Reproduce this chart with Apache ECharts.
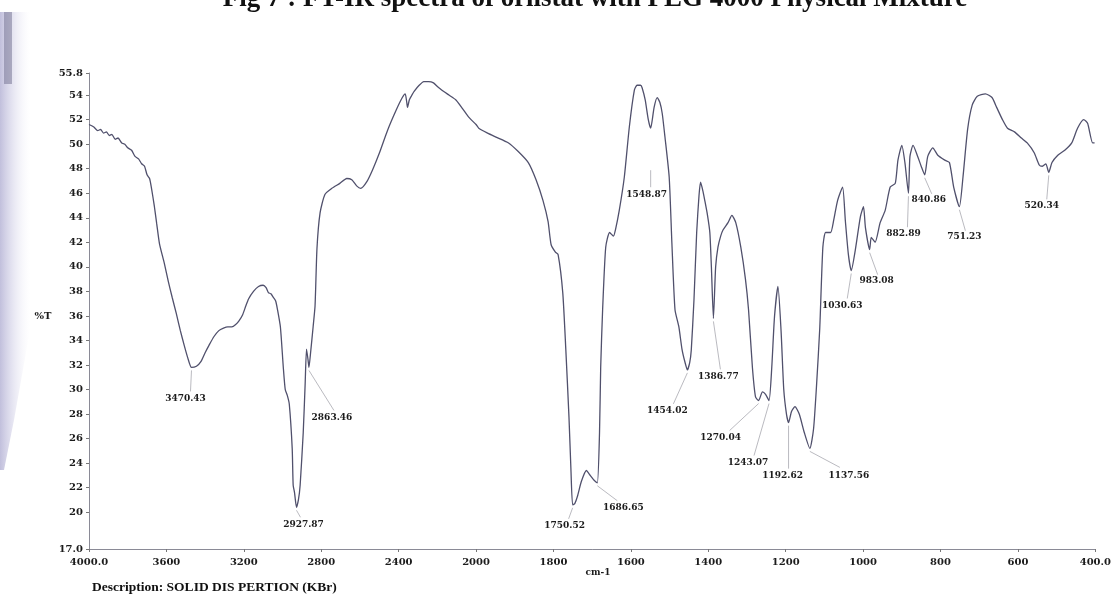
<!DOCTYPE html>
<html>
<head>
<meta charset="utf-8">
<title>FT-IR spectrum – orlistat with PEG 4000 physical mixture</title>
<script src="https://cdn.jsdelivr.net/npm/echarts@6/dist/echarts.min.js"></script>
<style>
  html, body { margin: 0; padding: 0; background: #ffffff; }
  #chart { width: 1114px; height: 599px; }
</style>
</head>
<body>
<div id="chart"></div>
<script>
// Spectrum: wavenumber (cm-1) and transmittance (%T)
const wavenumber = [
  4000, 3975, 3955, 3940, 3925, 3910, 3895, 3882, 3865, 3850,
  3831, 3815, 3800, 3780, 3762, 3744, 3728, 3713, 3700, 3687,
  3677, 3662, 3650, 3636, 3611, 3590, 3570, 3549, 3528, 3508,
  3490, 3470.43, 3445, 3421, 3400, 3380, 3355, 3329, 3305, 3283,
  3262, 3242, 3225, 3206, 3190, 3175, 3150, 3124, 3100, 3085,
  3073, 3060, 3047, 3035, 3027, 3011, 2996, 2986, 2975, 2965,
  2950, 2945, 2938, 2927.87, 2918, 2909, 2893, 2883, 2876, 2868,
  2863.46, 2855, 2842, 2832, 2822, 2806, 2781, 2745, 2704, 2668,
  2642, 2617, 2596, 2566, 2535, 2499, 2458, 2412, 2381, 2366,
  2358, 2354, 2345, 2335, 2320, 2294, 2270, 2245, 2220, 2200,
  2176, 2140, 2104, 2070, 2038, 2000, 1993, 1970, 1950, 1916,
  1891, 1865, 1845, 1827, 1814, 1806, 1795, 1788, 1776, 1768,
  1760, 1755, 1750.52, 1745, 1738, 1728, 1715, 1705, 1695, 1686.65,
  1681, 1678, 1673, 1665, 1655, 1645, 1640, 1630, 1617, 1604,
  1591, 1584, 1575, 1571, 1563, 1555, 1548.87, 1540, 1532, 1525,
  1519, 1512, 1501, 1494, 1486, 1476, 1468, 1460, 1454.02, 1448,
  1444, 1437, 1430, 1424, 1420, 1414, 1409, 1402, 1396, 1392,
  1386.77, 1381, 1375, 1368, 1362, 1349, 1339, 1329, 1316, 1304,
  1296, 1286, 1278, 1270.04, 1260, 1252, 1243.07, 1236, 1229, 1220,
  1212, 1205, 1198, 1192.62, 1185, 1176, 1165, 1152, 1137.56, 1128,
  1120, 1112, 1104, 1097, 1084, 1076, 1066, 1053, 1046, 1038,
  1030.63, 1020, 1007, 999, 994, 983.08, 979, 969, 956, 943,
  930, 917, 910, 900, 892, 882.89, 879, 871, 859, 850,
  840.86, 833, 820, 807, 789, 777, 766, 751.23, 742, 730,
  718, 705, 684, 667, 655, 640, 627, 609, 591, 576,
  558, 545, 537, 528, 520.34, 512, 497, 479, 461, 446,
  430, 420, 407, 402
];
const transmittance = [
  51.6, 51.4, 51.1, 51.2, 50.9, 51.0, 50.7, 50.8, 50.4, 50.5,
  50.1, 50.0, 49.7, 49.5, 49.0, 48.8, 48.4, 48.2, 47.5, 47.2,
  46.4, 44.9, 43.5, 41.9, 40.3, 38.8, 37.5, 36.2, 34.8, 33.6,
  32.6, 31.8, 31.9, 32.3, 33.0, 33.6, 34.3, 34.8, 35.0, 35.1,
  35.1, 35.3, 35.6, 36.1, 36.8, 37.4, 38.0, 38.4, 38.5, 38.3,
  37.9, 37.8, 37.5, 37.2, 36.6, 35.1, 31.8, 30.0, 29.5, 28.8,
  25.2, 22.2, 21.6, 20.4, 21.0, 22.2, 26.5, 30.5, 33.3, 32.4,
  31.8, 33.0, 35.1, 36.8, 41.5, 44.4, 45.9, 46.4, 46.8, 47.2,
  47.1, 46.6, 46.4, 46.9, 47.9, 49.3, 51.1, 52.8, 53.8, 54.1,
  53.4, 53.0, 53.6, 53.9, 54.3, 54.8, 55.1, 55.1, 55.0, 54.7,
  54.4, 54.0, 53.6, 52.9, 52.2, 51.6, 51.3, 50.9, 50.6, 50.1,
  49.4, 48.5, 47.1, 45.4, 43.7, 41.8, 41.2, 41.0, 37.9, 33.2,
  27.8, 23.6, 20.6, 20.7, 21.3, 22.5, 23.4, 23.0, 22.6, 22.4,
  26.5, 31.8, 36.5, 41.6, 42.8, 42.5, 43.0, 44.6, 47.3, 51.4,
  54.4, 54.8, 54.8, 54.6, 53.6, 52.0, 51.3, 53.0, 53.8, 53.4,
  52.5, 50.6, 47.3, 41.9, 36.5, 35.1, 33.3, 32.2, 31.6, 32.2,
  33.2, 37.3, 42.8, 45.8, 46.9, 46.2, 45.4, 44.2, 42.8, 40.0,
  35.8, 40.0, 41.6, 42.5, 43.0, 43.6, 44.2, 43.6, 41.6, 39.0,
  36.5, 31.8, 29.4, 29.1, 29.8, 29.6, 29.1, 31.8, 35.9, 38.4,
  34.8, 30.0, 28.0, 27.3, 28.2, 28.6, 28.0, 26.5, 25.2, 26.8,
  30.5, 35.0, 41.6, 42.8, 42.8, 43.8, 45.4, 46.5, 43.8, 41.0,
  39.7, 41.4, 44.1, 44.9, 43.2, 41.4, 42.4, 42.0, 43.6, 44.6,
  46.5, 46.8, 48.7, 49.9, 48.5, 46.0, 49.0, 49.9, 49.0, 48.2,
  47.5, 49.0, 49.7, 49.1, 48.7, 48.5, 46.5, 44.9, 47.3, 51.2,
  53.2, 53.9, 54.1, 53.8, 53.0, 52.0, 51.3, 51.0, 50.5, 50.1,
  49.3, 48.3, 48.2, 48.4, 47.7, 48.5, 49.1, 49.5, 50.1, 51.3,
  52.0, 51.7, 50.1, 50.1
];

// Annotated band positions (cm-1)
const peakWavenumbers = [
  3470.43, 2927.87, 2863.46, 1750.52, 1686.65, 1548.87, 1454.02, 1386.77, 1270.04,
  1243.07, 1192.62, 1137.56, 1030.63, 983.08, 882.89, 840.86, 751.23, 520.34
];

// Axis tick values
const xTickWavenumbers = [4000, 3600, 3200, 2800, 2400, 2000, 1800, 1600, 1400, 1200, 1000, 800, 600, 400];
const yTickValues = [17, 20, 22, 24, 26, 28, 30, 32, 34, 36, 38, 40, 42, 44, 46, 48, 50, 52, 54, 55.8];

// Placement of each band label around its point, in pixels:
// [labelDx, labelDy, leaderEndDx, leaderEndDy, leaderStartDy]
const peakLabelLayout = [
  [-6, 31, -1, 24, 3],
  [7, 17, 4, 10, 3],
  [23, 50, 25, 43, 3],
  [-8, 21, -4, 14, 3],
  [26, 25, 20, 18, 3],
  [-4, 66, 0, 59, 42],
  [-20, 41, -14, 34, 3],
  [5, 58, 7, 51, 3],
  [-38, 37, -29, 30, 3],
  [-21, 62, -15, 55, 3],
  [-6, 53, 0, 46, 3],
  [39, 27, 30, 19, 3],
  [-9, 35, -4, 28, 3],
  [7, 31, 8, 25, 3],
  [-5, 40, -1, 34, 3],
  [4, 25, 7, 19, 3],
  [5, 30, 6, 24, 3],
  [-7, 33, -2, 27, 3]
];

// The instrument plots 4000–2000 cm-1 at half the scale of 2000–400 cm-1.
function toAxis(w) { return w >= 2000 ? (4000 - w) / 2 : 1000 + (2000 - w); }
function fromAxis(t) { return t <= 1000 ? 4000 - 2 * t : 2000 - (t - 1000); }

const spectrumData = wavenumber.map((w, i) => [toAxis(w), transmittance[i]]);
const peakData = peakWavenumbers.map(w => [toAxis(w), transmittance[wavenumber.indexOf(w)]]);

const serif = '"DejaVu Serif", "Liberation Serif", serif';
const timesLike = '"Liberation Serif", "Times New Roman", serif';

const chart = echarts.init(document.getElementById('chart'), null, { renderer: 'canvas' });

const edgeHaze = new echarts.graphic.LinearGradient(0, 0, 1, 0, [
  { offset: 0, color: 'rgba(155,152,198,0.62)' },
  { offset: 0.35, color: 'rgba(175,172,212,0.38)' },
  { offset: 1, color: 'rgba(225,224,242,0)' }
]);

chart.setOption({
  animation: false,
  backgroundColor: '#ffffff',
  grid: { left: 89, right: 12, top: 73, bottom: 50, containLabel: false },
  xAxis: {
    type: 'value',
    min: 0,
    max: 2600,
    axisLine: { show: true, lineStyle: { color: '#8a8a96', width: 1 } },
    axisTick: {
      show: true, length: 3, lineStyle: { color: '#777' },
      customValues: xTickWavenumbers.map(toAxis)
    },
    axisLabel: {
      customValues: xTickWavenumbers.map(toAxis),
      showMinLabel: true, showMaxLabel: true, hideOverlap: false,
      margin: 8,
      color: '#1c1c1c',
      fontFamily: serif, fontWeight: 'bold', fontSize: 10,
      formatter: v => {
        const w = Math.round(fromAxis(v));
        return (w === 4000 || w === 400) ? w.toFixed(1) : String(w);
      }
    },
    splitLine: { show: false }
  },
  yAxis: {
    type: 'value',
    min: 17,
    max: 55.8,
    axisLine: { show: true, lineStyle: { color: '#8a8a96', width: 1 } },
    axisTick: { show: true, length: 3, lineStyle: { color: '#777' }, customValues: yTickValues },
    axisLabel: {
      customValues: yTickValues,
      showMinLabel: true, showMaxLabel: true,
      margin: 6,
      color: '#1c1c1c',
      fontFamily: serif, fontWeight: 'bold', fontSize: 10,
      formatter: v => (v === 17 || v === 55.8) ? v.toFixed(1) : String(v)
    },
    splitLine: { show: false }
  },
  graphic: [
    // scanned page edge on the left: lavender haze tapering off downwards
    {
      type: 'polygon', z: -1, silent: true,
      shape: { points: [[0, 12], [30, 12], [30, 330], [14, 420], [4, 470], [0, 470]] },
      style: { fill: edgeHaze }
    },
    {
      type: 'rect', z: -1, silent: true,
      shape: { x: 4, y: 12, width: 8, height: 72 },
      style: { fill: 'rgba(112,110,142,0.5)' }
    },
    {
      type: 'text', silent: true, x: 595, y: -1,
      style: {
        text: 'Fig 7 : FT-IR spectra of orlistat with PEG 4000 Physical Mixture',
        font: 'bold 27px ' + timesLike, fill: '#111',
        align: 'center', verticalAlign: 'middle',
        textAlign: 'center', textVerticalAlign: 'middle'
      }
    },
    {
      type: 'text', silent: true, x: 43, y: 316,
      style: {
        text: '%T', font: 'bold 10px ' + serif, fill: '#1c1c1c',
        align: 'center', verticalAlign: 'middle', textAlign: 'center', textVerticalAlign: 'middle'
      }
    },
    {
      type: 'text', silent: true, x: 598, y: 573,
      style: {
        text: 'cm-1', font: 'bold 9px ' + serif, fill: '#1c1c1c',
        align: 'center', verticalAlign: 'middle', textAlign: 'center', textVerticalAlign: 'middle'
      }
    },
    {
      type: 'text', silent: true, x: 92, y: 588,
      style: {
        text: 'Description: SOLID DIS PERTION (KBr)', font: 'bold 13.5px ' + timesLike, fill: '#111',
        align: 'left', verticalAlign: 'middle', textAlign: 'left', textVerticalAlign: 'middle'
      }
    }
  ],
  series: [
    {
      name: '%T',
      type: 'line',
      data: spectrumData,
      showSymbol: false,
      smooth: 0.2,
      lineStyle: { color: '#50506c', width: 1.3 },
      z: 2
    },
    {
      name: 'bands',
      type: 'custom',
      data: peakData,
      z: 3,
      renderItem: (params, api) => {
        const p = api.coord([api.value(0), api.value(1)]);
        const o = peakLabelLayout[params.dataIndex];
        return {
          type: 'group',
          children: [
            {
              type: 'line',
              shape: { x1: p[0], y1: p[1] + o[4], x2: p[0] + o[2], y2: p[1] + o[3] },
              style: { stroke: '#a8a8b0', lineWidth: 0.8 }
            },
            {
              type: 'text',
              x: p[0] + o[0],
              y: p[1] + o[1],
              style: {
                text: peakWavenumbers[params.dataIndex].toFixed(2),
                font: 'bold 9px ' + serif, fill: '#1c1c1c',
                align: 'center', verticalAlign: 'middle',
                textAlign: 'center', textVerticalAlign: 'middle'
              }
            }
          ]
        };
      }
    }
  ]
});
</script>
</body>
</html>
